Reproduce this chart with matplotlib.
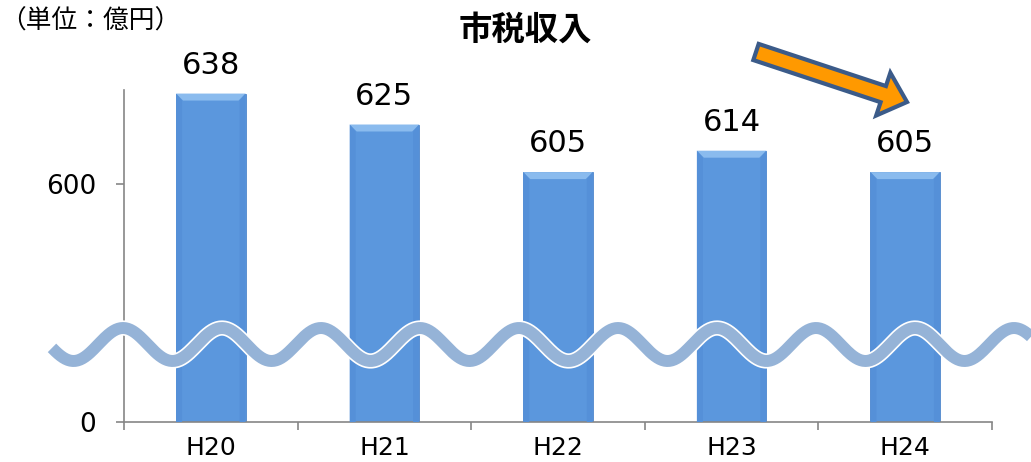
import numpy as np
import matplotlib
matplotlib.use('Agg')
import matplotlib.pyplot as plt
from matplotlib.patches import Polygon, FancyArrow
import matplotlib.patheffects as pe

plt.rcParams['font.family'] = ['Noto Sans CJK JP', 'DejaVu Sans']

# data
years = ['H20', 'H21', 'H22', 'H23', 'H24']
revenue = [638, 625, 605, 614, 605]   # 億円
ytick_vals = [0, 600]

# broken axis: values below this are cut out
cut = 500

fig = plt.figure(figsize=(10.31, 4.62), dpi=100)
ax = fig.add_axes([124/1031, 40/462, 868/1031, 332/462])

x = np.arange(len(years))
heights = [v - cut for v in revenue]
bars = ax.bar(x, heights, width=0.40, color='#5b97dd', edgecolor='#5088cc', linewidth=0.6, zorder=2)

# bevel on bar tops
px_x = 1 / 173.6   # one pixel in x data units
px_y = 1 / 2.38    # one pixel in y data units
for b in bars:
    x0, w, h = b.get_x(), b.get_width(), b.get_height()
    cap = Polygon([(x0, h), (x0 + w, h), (x0 + w - 7*px_x, h - 7*px_y), (x0 + 7*px_x, h - 7*px_y)],
                  closed=True, facecolor='#8abbee', edgecolor='none', zorder=3)
    ax.add_patch(cap)
    ax.add_patch(Polygon([(x0, h), (x0 + 6*px_x, h - 7*px_y), (x0 + 6*px_x, 0), (x0, 0)],
                         closed=True, facecolor='#5590d8', edgecolor='none', zorder=3))
    ax.add_patch(Polygon([(x0 + w, h), (x0 + w - 6*px_x, h - 7*px_y), (x0 + w - 6*px_x, 0), (x0 + w, 0)],
                         closed=True, facecolor='#5590d8', edgecolor='none', zorder=3))

for xi, h, v in zip(x, heights, revenue):
    ax.annotate(str(v), (xi, h), xytext=(0, 10), textcoords='offset points',
                ha='center', va='bottom', fontsize=22, color='black', family='DejaVu Sans')

ax.set_xlim(-0.5, len(years) - 0.5)
ax.set_ylim(0, 139.5)
ax.set_yticks([t - cut if t else 0 for t in ytick_vals])
ax.set_yticklabels([str(t) for t in ytick_vals], fontsize=19, family='DejaVu Sans')
ax.set_xticks(x)
ax.set_xticklabels(years, fontsize=18, family='DejaVu Sans')
ax.set_xticks(np.arange(-0.5, len(years)), minor=True)
ax.tick_params(axis='x', which='major', length=0, pad=10)
ax.tick_params(axis='x', which='minor', length=6, color='#868686', width=1.2)
ax.tick_params(axis='y', length=6, color='#868686', width=1.2, pad=14)
for s in ['top', 'right']:
    ax.spines[s].set_visible(False)
for s in ['left', 'bottom']:
    ax.spines[s].set_color('#868686')
    ax.spines[s].set_linewidth(1.2)

# overlay in pixel units for the break wave and the arrow
ov = fig.add_axes([0, 0, 1, 1], zorder=5)
ov.set_xlim(0, 1031)
ov.set_ylim(462, 0)
ov.axis('off')
ov.patch.set_alpha(0)

wx = np.linspace(52, 1031, 800)
wy = 344.5 - 16.5 * np.cos(2 * np.pi * (wx - 123) / 99)
ov.plot(wx, wy, color='#95b3d7', lw=8.6, solid_capstyle='butt',
        path_effects=[pe.Stroke(linewidth=11, foreground='white'), pe.Normal()])

ov.add_patch(FancyArrow(756, 52, 151, 50, width=17, head_width=45, head_length=25,
                        length_includes_head=True, facecolor='#ff9900',
                        edgecolor='#3b5b89', linewidth=3, joinstyle='miter'))

fig.text(525/1031, 1 - 30/462, '市税収入', ha='center', va='center', fontsize=24, fontweight='bold')
fig.text(0, 1 - 22/462, '（単位：億円）', ha='left', va='center', fontsize=18.5)

fig.savefig('out.png', dpi=100)
